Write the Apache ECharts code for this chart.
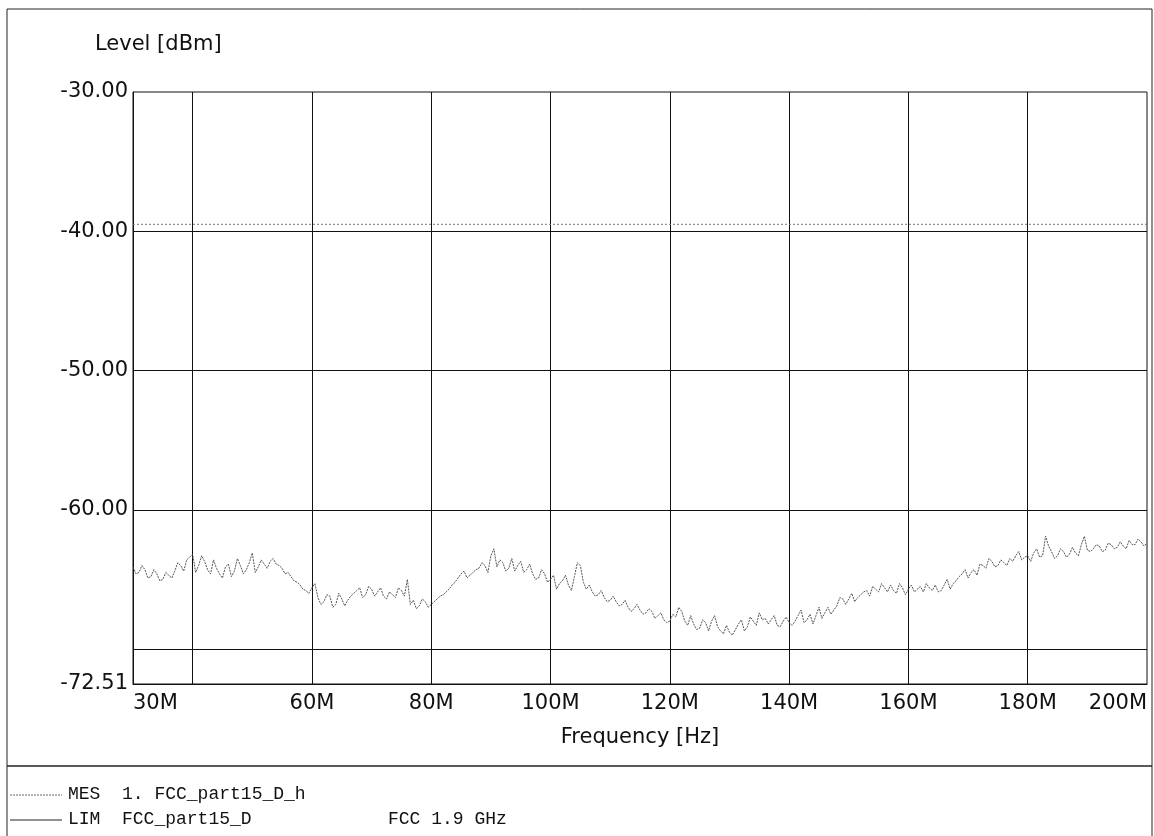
<!DOCTYPE html>
<html>
<head>
<meta charset="utf-8">
<script src="https://cdn.jsdelivr.net/npm/echarts@6/dist/echarts.min.js"></script>
<style>
  html, body { margin: 0; padding: 0; background: #fff; }
  #chart { width: 1154px; height: 836px; }
</style>
</head>
<body>
<div id="chart"></div>
<script>
// sweep start / step in MHz
const startFreq = 30;
const stepFreq = 1;

// measured level (MES), dBm, at whole MHz from 30M to 200M
const mesLevel = [
  -64.1, -64.5, -64.3, -64.8, -64.6, -65.0, -64.7, -64.4, -64.0, -63.6,
  -63.2, -64.0, -63.7, -64.6, -64.2, -64.9, -63.9, -64.4, -64.0, -64.3,
  -63.1, -64.1, -63.9, -63.7, -63.9, -64.2, -64.5, -65.1, -65.4, -65.8,
  -65.6, -66.3, -66.6, -66.2, -66.8, -66.4, -66.5, -66.0, -65.6, -66.1,
  -65.7, -65.9, -66.2, -65.9, -66.3, -65.8, -65.0, -66.5, -66.9, -66.6,
  -66.8, -66.4, -66.1, -65.7, -65.2, -64.6, -64.9, -64.5, -64.2, -64.0,
  -63.3, -64.1, -63.8, -64.2, -64.4, -63.7, -64.3, -64.6, -64.9, -64.6,
  -65.0, -65.7, -65.1, -65.4, -64.8, -64.0, -65.7, -65.9, -66.1, -66.3,
  -66.5, -66.6, -66.8, -67.0, -67.1, -67.2, -67.4, -67.3, -67.6, -67.9,
  -68.0, -67.7, -67.3, -68.3, -68.2, -68.5, -68.1, -68.0, -68.4, -68.9,
  -68.8, -68.6, -67.9, -68.4, -68.0, -67.4, -67.8, -67.9, -68.3, -68.0,
  -68.1, -68.0, -67.2, -67.9, -68.2, -67.0, -67.4, -67.5, -66.9, -66.4,
  -66.4, -66.6, -66.1, -65.8, -65.5, -65.9, -65.6, -65.4, -66.0, -65.6,
  -65.7, -65.9, -65.5, -65.3, -65.8, -65.9, -65.4, -65.7, -65.1, -64.6,
  -64.9, -64.3, -63.9, -64.2, -63.7, -64.0, -63.8, -63.5, -63.3, -63.6,
  -63.3, -63.1, -63.4, -61.9, -63.0, -63.3, -63.0, -63.2, -63.1, -62.5,
  -62.9, -62.8, -62.6, -62.9, -62.5, -62.7, -62.6, -62.2, -62.5, -62.3,
  -62.4
];

// measured level (MES), dBm, at the half MHz points 30.5M .. 199.5M
const mesLevelHalf = [
  -64.6, -64.0, -64.9, -64.3, -65.1, -64.5, -64.9, -63.8, -64.4, -63.4,
  -64.5, -63.3, -64.3, -63.6, -64.6, -64.1, -64.8, -63.5, -64.6, -63.8,
  -64.5, -63.6, -64.2, -63.5, -64.0, -64.6, -64.8, -65.2, -65.7, -66.0,
  -65.3, -66.8, -66.1, -67.0, -66.0, -66.9, -66.2, -65.8, -66.3, -65.5,
  -66.2, -65.6, -66.4, -66.1, -65.6, -66.2, -66.8, -67.1, -66.4, -67.0,
  -66.6, -66.2, -65.9, -65.4, -64.9, -64.4, -64.7, -64.3, -63.8, -64.5,
  -62.8, -63.6, -64.4, -63.5, -64.0, -64.5, -63.9, -65.0, -64.3, -65.2,
  -64.7, -65.3, -64.7, -65.8, -63.8, -65.2, -65.4, -66.2, -65.8, -66.6,
  -66.2, -66.9, -66.5, -67.3, -66.8, -67.5, -67.1, -67.8, -67.4, -68.1,
  -67.5, -67.0, -68.0, -67.6, -68.6, -67.9, -68.7, -67.6, -68.7, -68.3,
  -69.0, -68.2, -68.7, -67.7, -68.3, -67.9, -68.2, -67.6, -68.4, -67.7,
  -68.3, -67.6, -68.1, -67.5, -67.6, -67.8, -67.0, -67.2, -66.3, -66.8,
  -66.0, -66.3, -65.9, -66.2, -65.7, -65.3, -65.9, -65.8, -65.3, -66.1,
  -65.4, -65.7, -65.9, -65.6, -65.4, -65.8, -65.0, -65.3, -64.8, -64.3,
  -64.5, -64.7, -64.0, -63.5, -64.1, -63.6, -64.0, -63.7, -63.0, -63.4,
  -63.7, -62.8, -63.3, -62.6, -63.5, -62.8, -63.4, -62.7, -63.3, -61.9,
  -63.0, -62.5, -63.0, -62.4, -62.8, -62.3, -62.8, -62.5, -62.1, -62.6
];

// limit line (LIM)
const limFreq = [30, 200];
const limLevel = [-39.5, -39.5];

// axis ticks / labels
const xLabelValues = [30, 60, 80, 100, 120, 140, 160, 180, 200];
const xGridValues = [40, 60, 80, 100, 120, 140, 160, 180];
const yLabelValues = [-72.51, -60, -50, -40, -30];
const yGridValues = [-70, -60, -50, -40];

const mesData = [];
mesLevel.forEach((v, i) => {
  const f = startFreq + i * stepFreq;
  mesData.push([f, v]);
  if (i < mesLevelHalf.length) mesData.push([f + stepFreq / 2, mesLevelHalf[i]]);
});
const limData = limFreq.map((f, i) => [f, limLevel[i]]);

const labelFont = 'DejaVu Sans';
const monoFont = '"Liberation Mono", "Courier New", monospace';

const chart = echarts.init(document.getElementById('chart'), null, { renderer: 'canvas' });

const option = {
  backgroundColor: '#ffffff',
  animation: false,
  title: {
    text: 'Level [dBm]',
    left: 95,
    top: 34,
    padding: 0,
    textStyle: { fontFamily: labelFont, fontSize: 21, fontWeight: 'normal', color: '#111' }
  },
  grid: {
    left: 133, top: 92, right: 7, bottom: 152,
    show: true, borderColor: '#111', borderWidth: 1
  },
  xAxis: {
    type: 'value',
    min: 30, max: 200,
    name: 'Frequency [Hz]',
    nameLocation: 'middle',
    nameGap: 43,
    nameTextStyle: { fontFamily: labelFont, fontSize: 21, color: '#111' },
    axisLine: { show: true, lineStyle: { color: '#111', width: 1 } },
    axisTick: { show: false, customValues: xGridValues },
    splitLine: { show: true, lineStyle: { color: '#111', width: 1 } },
    axisLabel: {
      customValues: xLabelValues,
      margin: 9,
      fontFamily: labelFont, fontSize: 21, color: '#111',
      alignMinLabel: 'left', alignMaxLabel: 'right',
      formatter: v => v + 'M'
    }
  },
  yAxis: {
    type: 'value',
    min: -72.51, max: -30,
    axisLine: { show: true, lineStyle: { color: '#111', width: 1 } },
    axisTick: { show: false, customValues: yGridValues },
    splitLine: { show: true, lineStyle: { color: '#111', width: 1 } },
    axisLabel: {
      customValues: yLabelValues,
      margin: 5,
      fontFamily: labelFont, fontSize: 21, color: '#111',
      formatter: v => v.toFixed(2)
    }
  },
  series: [
    {
      name: 'LIM',
      type: 'line',
      data: limData,
      symbol: 'none',
      lineStyle: { color: '#777', width: 1, type: [2, 2] },
      z: 3
    },
    {
      name: 'MES',
      type: 'line',
      data: mesData,
      symbol: 'none',
      lineStyle: { color: '#555', width: 1, type: [2, 1] },
      z: 4
    }
  ],
  graphic: [
    // outer frame and legend separator
    { type: 'rect', shape: { x: 7, y: 9, width: 1145, height: 840 },
      style: { fill: null, stroke: '#222', lineWidth: 1 }, silent: true },
    { type: 'line', shape: { x1: 7, y1: 766, x2: 1152, y2: 766 },
      style: { stroke: '#222', lineWidth: 1.5 }, silent: true },
    // legend rows
    { type: 'line', shape: { x1: 10, y1: 795, x2: 62, y2: 795 },
      style: { stroke: '#666', lineWidth: 1, lineDash: [2, 1] }, silent: true },
    { type: 'text', left: 68, top: 785,
      style: { text: 'MES  1. FCC_part15_D_h', font: '18px ' + monoFont, fill: '#111' } },
    { type: 'line', shape: { x1: 10, y1: 820, x2: 62, y2: 820 },
      style: { stroke: '#222', lineWidth: 1 }, silent: true },
    { type: 'text', left: 68, top: 810,
      style: { text: 'LIM  FCC_part15_D', font: '18px ' + monoFont, fill: '#111' } },
    { type: 'text', left: 388, top: 810,
      style: { text: 'FCC 1.9 GHz', font: '18px ' + monoFont, fill: '#111' } }
  ]
};

chart.setOption(option);
</script>
</body>
</html>
